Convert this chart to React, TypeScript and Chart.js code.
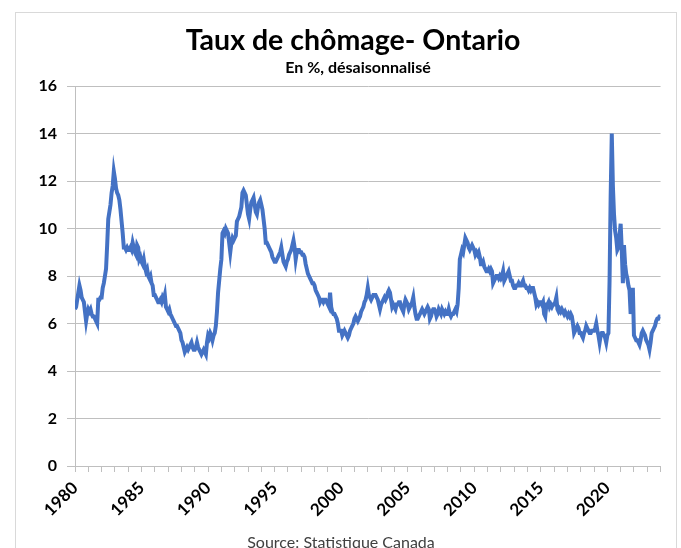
import React, { useEffect, useRef } from 'react';
import { Chart, registerables } from 'chart.js';

Chart.register(...registerables);

const START_YEAR = 1980;
const END_YEAR = 2024;

// Monthly seasonally adjusted unemployment rate, Ontario (%), Jan 1980 onward
const rates1980s = [
  6.6, 6.7, 7.0, 7.3, 7.6, 7.4, 7.1, 7.0, 6.9, 6.5, 6.1, 6.4,
  6.6, 6.5, 6.6, 6.4, 6.3, 6.3, 6.2, 6.1, 6.0, 7.0, 7.0, 7.1,
  7.1, 7.5, 7.7, 8.0, 8.3, 9.3, 10.4, 10.7, 11.0, 11.5, 11.8, 12.4,
  12.1, 11.7, 11.5, 11.4, 11.2, 10.8, 10.3, 9.8, 9.2, 9.2, 9.1, 9.2,
  9.1, 9.1, 9.2, 9.1, 9.4, 9.2, 9.0, 8.9, 9.3, 9.2, 8.7, 8.8,
  8.6, 8.5, 8.7, 8.4, 8.2, 8.3, 8.0, 7.9, 8.0, 7.7, 7.6, 7.2,
  7.2, 7.1, 7.0, 6.9, 6.9, 7.0, 6.9, 7.1, 7.0, 7.2, 6.7, 6.6,
  6.5, 6.6, 6.4, 6.3, 6.2, 6.1, 6.0, 5.9, 5.9, 5.8, 5.7, 5.6,
  5.3, 5.2, 5.0, 4.8, 4.9, 5.0, 4.9, 5.0, 5.1, 5.2, 5.0, 4.9,
  4.9, 5.0, 5.2, 5.0, 4.9, 4.8, 4.7, 4.8, 4.9, 4.8, 4.7, 5.2,
];
const rates1990s = [
  5.5, 5.4, 5.6, 5.5, 5.3, 5.5, 5.6, 5.9, 6.5, 7.3, 7.8, 8.3,
  8.7, 9.8, 9.9, 9.8, 10.0, 9.9, 9.8, 9.4, 9.0, 9.4, 9.6, 9.5,
  9.6, 9.7, 10.3, 10.4, 10.5, 10.7, 10.9, 11.5, 11.6, 11.5, 11.4, 11.0,
  10.6, 10.4, 10.8, 11.1, 11.2, 11.3, 11.0, 10.7, 10.6, 10.9, 11.1, 11.2,
  11.0, 10.8, 10.4, 10.0, 9.4, 9.4, 9.3, 9.2, 9.1, 9.0, 8.8, 8.7,
  8.6, 8.6, 8.7, 8.8, 8.9, 9.0, 9.2, 8.9, 8.6, 8.5, 8.4, 8.6,
  8.7, 8.9, 9.0, 9.1, 9.3, 9.5, 9.2, 8.7, 9.0, 9.1, 9.1, 9.0,
  9.0, 8.9, 8.9, 8.8, 8.5, 8.3, 8.1, 8.0, 7.9, 7.8, 7.7, 7.7,
  7.6, 7.4, 7.3, 7.2, 7.1, 6.9, 7.0, 7.0, 6.9, 7.0, 7.0, 6.9,
  6.8, 6.7, 7.3, 6.7, 6.5, 6.4, 6.4, 6.3, 6.2, 6.0, 5.7, 5.7,
];
const rates2000s = [
  5.7, 5.5, 5.6, 5.7, 5.6, 5.5, 5.4, 5.5, 5.7, 5.8, 5.9, 6.0,
  6.2, 6.3, 6.2, 6.1, 6.2, 6.3, 6.5, 6.6, 6.7, 6.9, 7.0, 7.2,
  7.5, 7.2, 7.1, 7.0, 7.1, 7.2, 7.2, 7.2, 7.1, 7.0, 6.8, 6.6,
  6.8, 6.9, 7.0, 7.1, 7.0, 7.1, 7.3, 7.4, 7.3, 7.0, 6.7, 6.8,
  6.7, 6.6, 6.8, 6.8, 6.9, 6.9, 6.7, 6.6, 6.5, 6.8, 7.0, 6.9,
  6.8, 6.6, 6.7, 6.8, 6.9, 7.1, 6.7, 6.4, 6.2, 6.2, 6.3, 6.4,
  6.5, 6.6, 6.5, 6.4, 6.5, 6.6, 6.7, 6.6, 6.2, 6.3, 6.5, 6.6,
  6.6, 6.5, 6.3, 6.4, 6.6, 6.5, 6.4, 6.6, 6.5, 6.4, 6.5, 6.4,
  6.4, 6.6, 6.4, 6.3, 6.4, 6.4, 6.5, 6.6, 6.5, 6.8, 7.5, 8.7,
  8.9, 9.1, 9.0, 9.3, 9.6, 9.5, 9.4, 9.2, 9.1, 9.2, 9.3, 9.2,
];
const rates2010s = [
  9.1, 8.9, 9.0, 8.9, 9.0, 8.8, 8.5, 8.5, 8.6, 8.4, 8.3, 8.2,
  8.2, 8.3, 8.2, 8.3, 8.2, 7.7, 7.8, 7.9, 8.0, 8.0, 7.9, 8.0,
  7.9, 8.0, 8.2, 7.8, 7.9, 8.0, 8.1, 8.2, 8.0, 7.8, 7.8, 7.6,
  7.5, 7.5, 7.6, 7.6, 7.7, 7.6, 7.6, 7.7, 7.8, 7.6, 7.6, 7.5,
  7.5, 7.4, 7.5, 7.4, 7.5, 7.5, 7.3, 7.1, 6.8, 6.9, 6.8, 6.9,
  6.9, 6.8, 6.9, 6.4, 6.3, 6.8, 6.8, 6.9, 6.7, 6.8, 6.7, 6.8,
  6.8, 6.9, 7.1, 6.6, 6.5, 6.6, 6.5, 6.6, 6.5, 6.4, 6.5, 6.4,
  6.3, 6.4, 6.3, 6.4, 6.3, 6.0, 5.6, 5.7, 5.8, 5.9, 5.8, 5.6,
  5.6, 5.5, 5.4, 5.6, 5.7, 5.9, 5.8, 5.7, 5.6, 5.6, 5.7, 5.7,
  5.7, 5.8, 6.0, 5.7, 5.5, 5.2, 5.5, 5.6, 5.6, 5.5, 5.4, 5.2,
];
const rates2020s = [
  5.5, 5.6, 7.8, 11.4, 14.0, 11.8, 10.6, 9.9, 9.6, 9.1, 9.2, 9.7,
  10.2, 9.1, 7.7, 9.3, 8.5, 8.1, 7.9, 7.6, 7.4, 6.4, 7.0, 7.5,
  5.5, 5.4, 5.3, 5.3, 5.2, 5.1, 5.3, 5.6, 5.7, 5.6, 5.5, 5.3,
  5.2, 5.1, 4.9, 5.2, 5.6, 5.7, 5.8, 5.9, 6.1, 6.2, 6.2, 6.3,
  6.3,
];

const labelYears = [1980, 1985, 1990, 1995, 2000, 2005, 2010, 2015, 2020];
const yTickValues = [0, 2, 4, 6, 8, 10, 12, 14, 16];

const TITLE = 'Taux de chômage- Ontario';
const SUBTITLE = 'En %, désaisonnalisé';
const SOURCE = 'Source: Statistique Canada';

const FONT = 'Lato, "Open Sans", "DejaVu Sans", sans-serif';

const framePlugin = {
  id: 'frame',
  beforeDraw(chart: any) {
    const ctx = chart.ctx;
    ctx.save();
    ctx.fillStyle = '#ffffff';
    ctx.fillRect(0, 0, chart.width, chart.height);
    ctx.strokeStyle = '#d9d9d9';
    ctx.lineWidth = 1;
    ctx.strokeRect(15.5, 12.5, 661, 600);
    ctx.restore();
  },
};

export default function App() {
  const canvasRef = useRef<HTMLCanvasElement | null>(null);

  useEffect(() => {
    const canvas = canvasRef.current;
    if (!canvas) return;
    const all = [...rates1980s, ...rates1990s, ...rates2000s, ...rates2010s, ...rates2020s];
    const points = all.map((v, i) => ({ x: START_YEAR + i / 12, y: v }));

    const chart = new Chart(canvas, {
      type: 'line',
      data: {
        datasets: [
          {
            label: 'Ontario',
            data: points,
            borderColor: '#4472C4',
            borderWidth: 4,
            pointRadius: 0,
            tension: 0,
            fill: false,
          },
        ],
      },
      plugins: [framePlugin],
      options: {
        animation: false,
        responsive: false,
        devicePixelRatio: 1,
        layout: { padding: { top: 86, left: 20, right: 18, bottom: 0 } },
        plugins: {
          legend: { display: false },
          tooltip: { enabled: false },
          title: { display: false },
        },
        scales: {
          x: {
            type: 'linear',
            min: START_YEAR,
            max: END_YEAR,
            border: { display: true, color: '#bfbfbf', width: 1 },
            grid: { drawOnChartArea: false, drawTicks: true, tickLength: 6, color: '#bfbfbf' },
            ticks: {
              stepSize: 1,
              autoSkip: false,
              maxRotation: 45,
              minRotation: 45,
              padding: 6,
              color: '#000000',
              font: { family: FONT, size: 17, weight: 'bold' },
              callback: (v: any) => (labelYears.includes(Math.round(Number(v))) ? String(Math.round(Number(v))) : ''),
            },
            afterFit: (s: any) => {
              s.height = 82;
            },
          },
          y: {
            type: 'linear',
            min: yTickValues[0],
            max: yTickValues[yTickValues.length - 1],
            border: { display: true, color: '#bfbfbf', width: 1 },
            grid: { color: '#bfbfbf', tickLength: 8, lineWidth: 1 },
            ticks: {
              stepSize: 2,
              padding: 10,
              color: '#000000',
              font: { family: FONT, size: 16, weight: 'bold' },
            },
            afterFit: (s: any) => {
              s.width = 55;
            },
          },
        },
      },
    } as any);

    return () => chart.destroy();
  }, []);

  const textBase: React.CSSProperties = {
    position: 'absolute',
    left: 0,
    textAlign: 'center',
    fontFamily: FONT,
    whiteSpace: 'nowrap',
    lineHeight: 1.2,
  };

  return (
    <div style={{ position: 'absolute', left: 0, top: 0, width: 681, height: 548, overflow: 'hidden', background: '#fff' }}>
      <canvas ref={canvasRef} width={681} height={548} style={{ display: 'block', width: 681, height: 548 }} />
      <div style={{ ...textBase, top: 22, width: 706, fontSize: 28.5, fontWeight: 700, color: '#000' }}>{TITLE}</div>
      <div style={{ ...textBase, top: 57, width: 716, fontSize: 16, fontWeight: 700, color: '#000' }}>{SUBTITLE}</div>
      <div style={{ ...textBase, top: 532, width: 682, fontSize: 16, fontWeight: 400, color: '#404040' }}>{SOURCE}</div>
    </div>
  );
}
